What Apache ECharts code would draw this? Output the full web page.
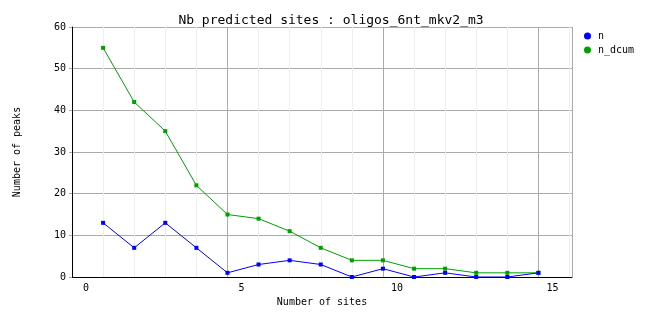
<!DOCTYPE html>
<html><head><meta charset="utf-8">
<script src="https://cdn.jsdelivr.net/npm/echarts@6/dist/echarts.min.js"></script>
<style>html,body{margin:0;padding:0;background:#fff}#c{width:662px;height:328px}</style>
</head><body><div id="c"></div>
<script>
const titleText = 'Nb predicted sites : oligos_6nt_mkv2_m3';
const sites = [0.55, 1.55, 2.55, 3.55, 4.55, 5.55, 6.55, 7.55, 8.55, 9.55, 10.55, 11.55, 12.55, 13.55, 14.55];
const nValues = [13, 7, 13, 7, 1, 3, 4, 3, 0, 2, 0, 1, 0, 0, 1];
const nDcumValues = [55, 42, 35, 22, 15, 14, 11, 7, 4, 4, 2, 2, 1, 1, 1];
const seriesNames = ['n', 'n_dcum'];
const colors = ['#0000ff', '#00a000'];
const xLabelTicks = [0, 5, 10, 15];
const FONT = 'DejaVu Sans Mono';

const chart = echarts.init(document.getElementById('c'), null, {renderer: 'canvas'});
const pairs = (xs, ys) => xs.map((x, i) => [x, ys[i]]);
chart.setOption({
  animation: false,
  backgroundColor: '#fff',
  title: {text: titleText, left: 'center', top: 9,
    textStyle: {fontFamily: FONT, fontSize: 13, fontWeight: 'normal', color: '#000'}},
  legend: {orient: 'vertical', left: 579, top: 26, itemGap: 4, itemWidth: 7, itemHeight: 7,
    icon: 'circle', data: seriesNames,
    textStyle: {fontFamily: FONT, fontSize: 10, color: '#000', padding: [0, 0, 0, 2]}},
  grid: {left: 72, top: 27, width: 500, height: 250, containLabel: false},
  xAxis: [{
    type: 'value', min: -0.45, max: 15.63,
    name: 'Number of sites', nameLocation: 'middle', nameGap: 20,
    nameTextStyle: {fontFamily: FONT, fontSize: 10, color: '#000'},
    axisLine: {show: true, onZero: false, lineStyle: {color: '#000', width: 1}},
    axisTick: {show: false}, splitLine: {show: false},
    axisLabel: {margin: 6, fontFamily: FONT, fontSize: 10, color: '#000',
      customValues: xLabelTicks, showMinLabel: true, showMaxLabel: true}
  }, {
    type: 'value', min: 0, max: 16.08, interval: 5,
    axisLine: {show: false}, axisTick: {show: false}, axisLabel: {show: false},
    splitLine: {show: true, lineStyle: {color: '#aaaaaa', width: 1}},
    minorTick: {show: false, splitNumber: 5},
    minorSplitLine: {show: true, lineStyle: {color: '#eeeeee', width: 1}}
  }],
  yAxis: {
    type: 'value', min: 0, max: 60, interval: 10,
    name: 'Number of peaks', nameLocation: 'middle', nameGap: 50,
    nameTextStyle: {fontFamily: FONT, fontSize: 10, color: '#000'},
    axisLine: {show: true, onZero: false, lineStyle: {color: '#000', width: 1}},
    axisTick: {show: true, length: 3, lineStyle: {color: '#aaaaaa'}},
    axisLabel: {margin: 6, fontFamily: FONT, fontSize: 10, color: '#000'},
    splitLine: {show: true, lineStyle: {color: '#aaaaaa', width: 1}}
  },
  series: [
    {name: seriesNames[0], type: 'line', xAxisIndex: 0, data: pairs(sites, nValues),
      symbol: 'rect', symbolSize: 4, color: colors[0],
      lineStyle: {width: 1, color: colors[0]}, itemStyle: {color: colors[0]}, z: 3},
    {name: seriesNames[1], type: 'line', xAxisIndex: 0, data: pairs(sites, nDcumValues),
      symbol: 'rect', symbolSize: 4, color: colors[1],
      lineStyle: {width: 1, color: colors[1]}, itemStyle: {color: colors[1]}, z: 2}
  ]
});
</script></body></html>
